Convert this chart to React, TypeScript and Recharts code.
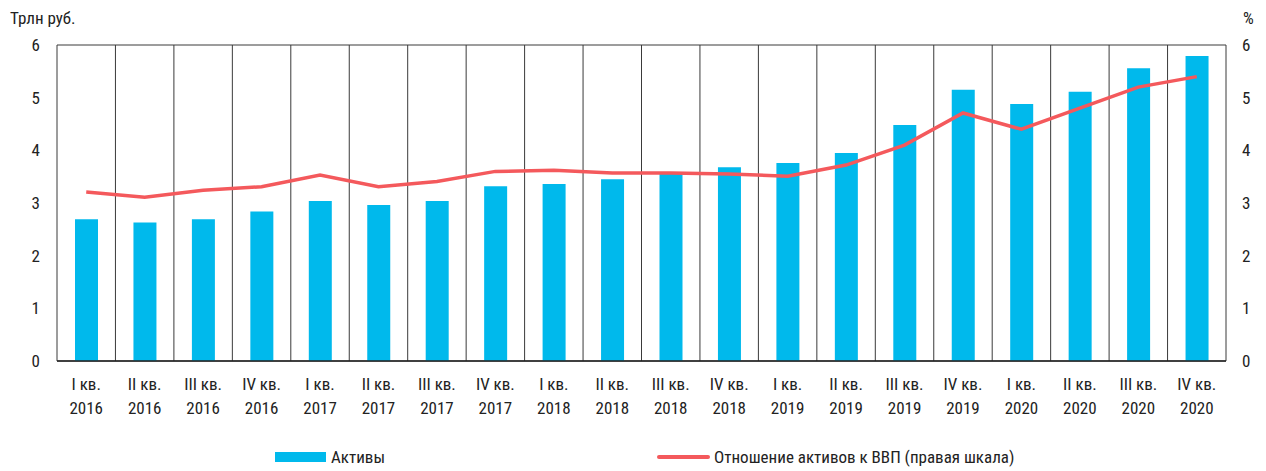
import React from 'react';
import { ComposedChart, Bar, Line, XAxis, YAxis, CartesianGrid, Legend } from 'recharts';

const quarters = ['I кв.', 'II кв.', 'III кв.', 'IV кв.'];
const years = ['2016', '2017', '2018', '2019', '2020'];
const categories = years.flatMap((y) => quarters.map((q) => `${q} ${y}`));
const assets = [2.69, 2.63, 2.69, 2.84, 3.04, 2.96, 3.04, 3.32, 3.36, 3.45, 3.58, 3.68, 3.76, 3.95, 4.48, 5.15, 4.88, 5.11, 5.56, 5.79];
const ratio = [3.21, 3.11, 3.24, 3.31, 3.53, 3.31, 3.41, 3.60, 3.62, 3.57, 3.57, 3.55, 3.51, 3.72, 4.10, 4.71, 4.40, 4.80, 5.20, 5.40];
const yTicks = [0, 1, 2, 3, 4, 5, 6];
const assetsName = 'Активы';
const ratioName = 'Отношение активов к ВВП (правая шкала)';
const leftUnit = 'Трлн руб.';
const rightUnit = '%';

const data = categories.map((c, i) => ({ cat: c, assets: assets[i], ratio: ratio[i] }));

const FONT = '"Liberation Sans Narrow", "Roboto Condensed", Roboto, sans-serif';
const BLUE = '#00b9ec';
const RED = '#f4595c';
const GRID = '#3a3a3a';

const XTick = (props: any) => {
  const { x, y, payload } = props;
  const parts = String(payload.value).split(' ');
  const first = parts.slice(0, parts.length - 1).join(' ');
  const year = parts[parts.length - 1];
  return (
    <text x={x} y={y} textAnchor="middle" fontFamily={FONT} fontSize={17} fill="#222">
      <tspan x={x} dy={21}>{first}</tspan>
      <tspan x={x} dy={24}>{year}</tspan>
    </text>
  );
};

const LegendContent = () => (
  <div style={{ position: 'relative', width: 1266, height: 24, fontFamily: FONT, fontSize: 17, color: '#222' }}>
    <div style={{ position: 'absolute', left: 275, top: 5, width: 51, height: 10, background: BLUE }} />
    <div style={{ position: 'absolute', left: 331, top: 0, lineHeight: '20px' }}>{assetsName}</div>
    <div style={{ position: 'absolute', left: 657, top: 8, width: 53, height: 4, borderRadius: 2, background: RED }} />
    <div style={{ position: 'absolute', left: 714, top: 0, lineHeight: '20px' }}>{ratioName}</div>
  </div>
);

export default function App() {
  return (
    <div style={{ position: 'absolute', left: 0, top: 0 }}>
      <ComposedChart
        width={1266}
        height={471}
        data={data}
        margin={{ top: 45, right: 0, left: 0, bottom: 40 }}
        barCategoryGap={0}
      >
        <CartesianGrid
          stroke={GRID}
          strokeWidth={1}
          verticalCoordinatesGenerator={({ offset }: any) =>
            Array.from({ length: categories.length + 1 }, (_, i) => offset.left + (i * offset.width) / categories.length)
          }
        />
        <XAxis
          dataKey="cat"
          interval={0}
          height={70}
          tickLine={false}
          axisLine={{ stroke: '#222', strokeWidth: 1.5 }}
          tick={<XTick />}
        />
        <YAxis
          yAxisId="left"
          orientation="left"
          width={57}
          domain={[0, 6]}
          ticks={yTicks}
          axisLine={false}
          tickLine={false}
          tickMargin={11}
          tick={{ fontFamily: FONT, fontSize: 17, fill: '#222' }}
          label={{
            content: (p: any) => (
              <text x={10} y={24} fontFamily={FONT} fontSize={17} fill="#222">{leftUnit}</text>
            ),
          }}
        />
        <YAxis
          yAxisId="right"
          orientation="right"
          width={40}
          domain={[0, 6]}
          ticks={yTicks}
          axisLine={false}
          tickLine={false}
          tickMargin={10}
          tick={{ fontFamily: FONT, fontSize: 17, fill: '#222' }}
          label={{
            content: (p: any) => (
              <text x={1243} y={24} fontFamily={FONT} fontSize={17} fill="#222">{rightUnit}</text>
            ),
          }}
        />
        <Bar yAxisId="left" dataKey="assets" name={assetsName} fill={BLUE} barSize={23} isAnimationActive={false} />
        <Line
          yAxisId="right"
          dataKey="ratio"
          name={ratioName}
          type="linear"
          stroke={RED}
          strokeWidth={3.5}
          dot={false}
          isAnimationActive={false}
        />
        <Legend
          layout="horizontal"
          verticalAlign="middle"
          align="center"
          wrapperStyle={{ top: 447, left: 0, width: 1266 }}
          content={<LegendContent />}
        />
      </ComposedChart>
    </div>
  );
}
